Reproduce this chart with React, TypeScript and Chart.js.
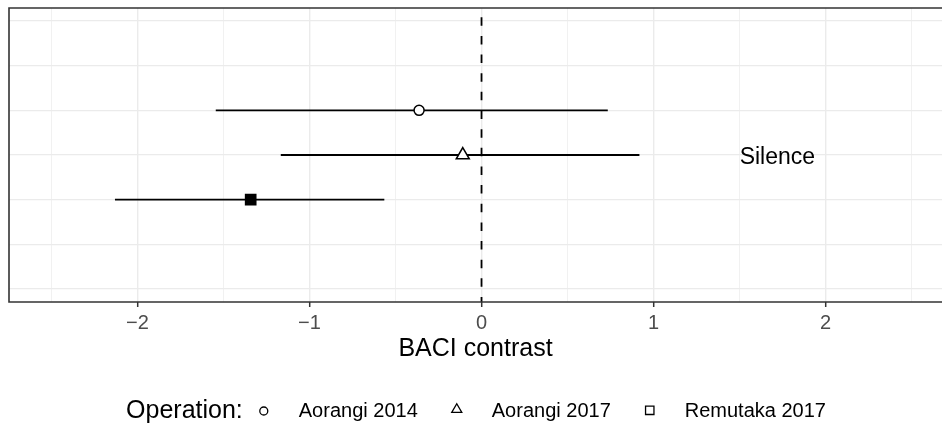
import React, { useEffect, useRef } from "react";
import { Chart, registerables } from "chart.js";

Chart.register(...registerables);

// ---- data ----
const operations = ["Aorangi 2014", "Aorangi 2017", "Remutaka 2017"];
const rowIndex = [4, 3, 2];
const estimates = [-0.363, -0.109, -1.342];
const lowerCI = [-1.545, -1.167, -2.131];
const upperCI = [0.734, 0.918, -0.565];
const referenceValue = 0;
const panelLabel = "Silence";
const panelLabelPos = { x: 1.72, y: 3 };
const legendTitle = "Operation:";
const xTitle = "BACI contrast";

const X_MIN = -2.747;
const X_MAX = 2.677;
const Y_MIN = -0.29;
const Y_MAX = 6.29;

const W = 942;
const H = 423;
const FONT = '"Liberation Sans", Arial, Helvetica, sans-serif';

type Shape = "circle" | "triangle" | "rect";
const shapes: Shape[] = ["circle", "triangle", "rect"];
const plotRadius = [5, 7.5, 7.2];
const plotFill = ["#ffffff", "#ffffff", "#000000"];

function drawMarker(ctx: CanvasRenderingContext2D, shape: Shape, x: number, y: number, r: number) {
  ctx.beginPath();
  if (shape === "circle") {
    ctx.arc(x, y, r, 0, Math.PI * 2);
  } else if (shape === "triangle") {
    ctx.moveTo(x, y - r);
    ctx.lineTo(x + r * Math.sin(Math.PI / 3), y + r * 0.5);
    ctx.lineTo(x - r * Math.sin(Math.PI / 3), y + r * 0.5);
    ctx.closePath();
  } else {
    ctx.rect(x - r, y - r, 2 * r, 2 * r);
  }
  ctx.stroke();
}

const overlayPlugin = {
  id: "overlay",
  afterDraw(chart: any) {
    const { ctx, chartArea, scales } = chart;
    ctx.save();
    // panel label
    ctx.fillStyle = "#000000";
    ctx.font = `23px ${FONT}`;
    ctx.textAlign = "center";
    ctx.textBaseline = "alphabetic";
    ctx.fillText(
      panelLabel,
      scales.x.getPixelForValue(panelLabelPos.x),
      scales.y.getPixelForValue(panelLabelPos.y) + 9
    );

    // frame (top, left, bottom; right edge lies outside the picture)
    ctx.strokeStyle = "#333333";
    ctx.lineWidth = 1.6;
    ctx.beginPath();
    ctx.moveTo(chart.width + 2, chartArea.top);
    ctx.lineTo(chartArea.left, chartArea.top);
    ctx.lineTo(chartArea.left, chartArea.bottom);
    ctx.lineTo(chart.width + 2, chartArea.bottom);
    ctx.stroke();

    // legend
    ctx.textAlign = "left";
    ctx.font = `25px ${FONT}`;
    const tw = ctx.measureText(legendTitle).width;
    ctx.font = `20px ${FONT}`;
    const widths = operations.map((o) => ctx.measureText(o).width);
    const gapFirst = 21;
    const gapNext = 39;
    const markerToText = 35;
    const total =
      tw + gapFirst + gapNext * (operations.length - 1) + markerToText * operations.length +
      widths.reduce((a, b) => a + b, 0);
    let x = 476 - total / 2;
    ctx.fillStyle = "#000000";
    ctx.font = `25px ${FONT}`;
    ctx.fillText(legendTitle, x, 418);
    x += tw;
    const legendR = [4, 5.8, 4.2];
    const legendY = [411, 409.5, 410.3];
    ctx.strokeStyle = "#000000";
    ctx.lineWidth = 1.3;
    ctx.font = `20px ${FONT}`;
    operations.forEach((op, i) => {
      x += i === 0 ? gapFirst : gapNext;
      drawMarker(ctx, shapes[i], x, legendY[i], legendR[i]);
      x += markerToText;
      ctx.fillText(op, x, 417);
      x += widths[i];
    });
    ctx.restore();
  },
};

export default function App() {
  const canvasRef = useRef<HTMLCanvasElement | null>(null);

  useEffect(() => {
    if (!canvasRef.current) return;
    const datasets: any[] = [];
    operations.forEach((op, i) => {
      datasets.push({
        type: "scatter",
        label: op,
        data: [{ x: estimates[i], y: rowIndex[i] }],
        pointStyle: shapes[i],
        pointRadius: plotRadius[i],
        pointBackgroundColor: plotFill[i],
        pointBorderColor: "#000000",
        pointBorderWidth: 1.5,
        order: 0,
      });
    });
    operations.forEach((op, i) => {
      datasets.push({
        type: "line",
        label: op + " CI",
        data: [
          { x: lowerCI[i], y: rowIndex[i] },
          { x: upperCI[i], y: rowIndex[i] },
        ],
        borderColor: "#000000",
        borderWidth: 1.8,
        pointRadius: 0,
        fill: false,
        order: 2,
      });
    });
    datasets.push({
      type: "line",
      label: "reference",
      data: [
        { x: referenceValue, y: Y_MIN },
        { x: referenceValue, y: Y_MAX },
      ],
      borderColor: "#000000",
      borderWidth: 1.8,
      borderDash: [8.5, 10.15],
      borderDashOffset: 3.5,
      pointRadius: 0,
      fill: false,
      order: 1,
    });

    const chart = new Chart(canvasRef.current, {
      type: "scatter",
      data: { datasets },
      options: {
        animation: false,
        responsive: false,
        layout: { autoPadding: false, padding: { left: 9, top: 8, right: 0, bottom: 0 } },
        plugins: { legend: { display: false }, tooltip: { enabled: false } },
        scales: {
          x: {
            type: "linear",
            min: X_MIN,
            max: X_MAX,
            afterFit: (s: any) => {
              s.height = 121;
              s.paddingLeft = 0;
              s.paddingRight = 0;
            },
            ticks: {
              stepSize: 0.5,
              includeBounds: false,
              autoSkip: false,
              maxRotation: 0,
              padding: 4,
              color: "#4D4D4D",
              font: { family: FONT, size: 20 },
              callback: (v: any) => {
                const n = Number(v);
                if (Math.abs(n - Math.round(n)) > 1e-6) return "";
                const r = Math.round(n);
                return r < 0 ? "\u2212" + Math.abs(r) : String(r);
              },
            },
            grid: {
              color: "#EBEBEB",
              lineWidth: (c: any) =>
                Math.abs(c.tick.value - Math.round(c.tick.value)) < 1e-6 ? 1.4 : 0.7,
              tickLength: 5,
              tickColor: (c: any) =>
                Math.abs(c.tick.value - Math.round(c.tick.value)) < 1e-6 ? "#333333" : "rgba(0,0,0,0)",
              tickWidth: 1.5,
            },
            border: { display: false },
            title: {
              display: true,
              text: xTitle,
              color: "#000000",
              font: { family: FONT, size: 25 },
              padding: { top: 0, bottom: 59 },
            },
          },
          y: {
            type: "linear",
            min: Y_MIN,
            max: Y_MAX,
            afterFit: (s: any) => {
              s.width = 0;
            },
            ticks: { display: false, stepSize: 1, includeBounds: false },
            grid: { color: "#EBEBEB", lineWidth: 1.2, drawTicks: false },
            border: { display: false },
          },
        },
      },
      plugins: [overlayPlugin],
    });
    return () => chart.destroy();
  }, []);

  return (
    <div style={{ position: "absolute", left: 0, top: 0, width: W, height: H, background: "#ffffff" }}>
      <canvas ref={canvasRef} width={W} height={H} style={{ display: "block", width: W, height: H }} />
    </div>
  );
}
